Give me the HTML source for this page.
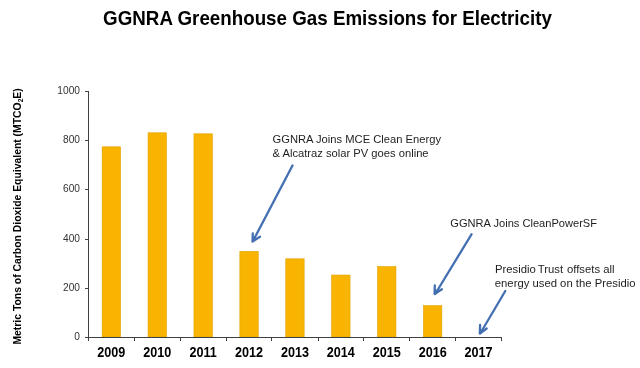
<!DOCTYPE html>
<html><head><meta charset="utf-8">
<style>
html,body{margin:0;padding:0;background:#fff;}
body{width:640px;height:368px;overflow:hidden;position:relative;}
svg{position:absolute;left:0;top:0;filter:blur(0.3px);}
text{font-family:"Liberation Sans",sans-serif;}
</style></head>
<body>
<svg width="640" height="368" viewBox="0 0 640 368">
<rect width="640" height="368" fill="#fff"/>
<!-- title -->
<text transform="translate(104.0,24.8) scale(0.988,1.04)" x="-0.9" y="0" font-size="19" font-weight="bold" fill="#000">GGNRA Greenhouse Gas Emissions for Electricity</text>
<!-- y axis label -->
<text transform="translate(20.6,344.6) rotate(-90)" font-size="10.4" font-weight="bold" fill="#000">Metric Tons of Carbon Dioxide Equivalent (MTCO<tspan font-size="6.6" dy="2.6">2</tspan><tspan dy="-2.6">E)</tspan></text>
<!-- bars -->
<g fill="#F8B400" stroke="#E0A200" stroke-width="0.6">
<rect x="102.15" y="146.80" width="18.4" height="190.20"/>
<rect x="148.05" y="132.80" width="18.4" height="204.20"/>
<rect x="193.95" y="133.80" width="18.4" height="203.20"/>
<rect x="239.85" y="251.30" width="18.4" height="85.70"/>
<rect x="285.75" y="258.80" width="18.4" height="78.20"/>
<rect x="331.65" y="275.05" width="18.4" height="61.95"/>
<rect x="377.55" y="266.55" width="18.4" height="70.45"/>
<rect x="423.45" y="305.60" width="18.4" height="31.40"/>
</g>
<!-- axes -->
<g stroke="#404040" stroke-width="1" fill="none" shape-rendering="crispEdges">
<path d="M88.5 91V337.5H502"/>
<path d="M85 91.5H88M85 140.5H88M85 189.5H88M85 239.5H88M85 288.5H88M85 337.5H88"/>
<path d="M88.5 337V341 M134.5 337V341 M180.5 337V341 M226.5 337V341 M271.5 337V341 M318.5 337V341 M363.5 337V341 M409.5 337V341 M455.5 337V341 M501.5 337V341"/>
</g>
<!-- y tick labels -->
<g font-size="10.2" fill="#333" text-anchor="end">
<text x="80" y="94">1000</text>
<text x="80" y="143">800</text>
<text x="80" y="192.3">600</text>
<text x="80" y="241.8">400</text>
<text x="80" y="291">200</text>
<text x="80" y="340">0</text>
</g>
<!-- x labels -->
<g font-size="13" font-weight="bold" fill="#000" text-anchor="middle">
<text transform="translate(111.35,357.2) scale(0.97,1.06)">2009</text>
<text transform="translate(157.25,357.2) scale(0.97,1.06)">2010</text>
<text transform="translate(203.15,357.2) scale(0.97,1.06)">2011</text>
<text transform="translate(249.05,357.2) scale(0.97,1.06)">2012</text>
<text transform="translate(294.95,357.2) scale(0.97,1.06)">2013</text>
<text transform="translate(340.85,357.2) scale(0.97,1.06)">2014</text>
<text transform="translate(386.75,357.2) scale(0.97,1.06)">2015</text>
<text transform="translate(432.65,357.2) scale(0.97,1.06)">2016</text>
<text transform="translate(478.55,357.2) scale(0.97,1.06)">2017</text>
</g>
<!-- annotations -->
<g font-size="11.2" fill="#1e1e1e">
<text x="272.5" y="143">GGNRA Joins MCE Clean Energy</text>
<text x="272.5" y="156.6">&amp; Alcatraz solar PV goes online</text>
<text x="450.3" y="226.8" font-size="11.1">GGNRA Joins CleanPowerSF</text>
<text x="495" y="272.6" font-size="11.3">Presidio <tspan dx="-1">Trust</tspan> <tspan dx="0.8">offsets all</tspan></text>
<text x="494.8" y="286.8" font-size="11.3">energy used on the Presidio</text>
</g>
<!-- arrows -->
<g stroke="#4470B2" stroke-width="2.3" fill="none" stroke-linecap="round" stroke-linejoin="round">
<path d="M292.5 165.5L253 241"/>
<path d="M252.8 233.5L252.5 241.5L260 236.8"/>
<path d="M471.5 234.3L435.5 293.5"/>
<path d="M434.8 285.5L434.6 294L441.9 289.3"/>
<path d="M505.3 291L480.5 333"/>
<path d="M480.1 325L479.8 333.5L486.7 328.5"/>
</g>
<g fill="#4470B2">
<path d="M252.5 241.5L252.7 236L256.8 238.8Z"/>
<path d="M434.6 294L434.7 288.5L438.9 291.2Z"/>
<path d="M479.8 333.5L479.9 328.3L483.8 331Z"/>
</g>
</svg>
</body></html>
